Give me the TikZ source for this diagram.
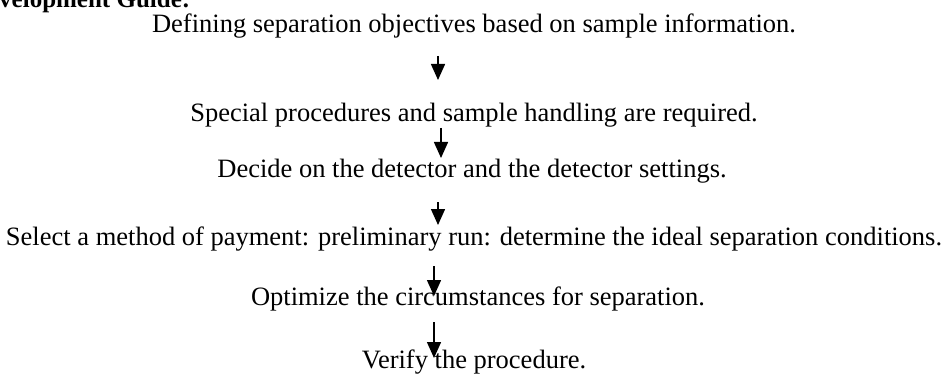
\documentclass[tikz,border=0pt]{standalone}
\usepackage{fontspec}
\setmainfont{Liberation Serif}
\usetikzlibrary{arrows.meta}
\begin{document}
\begin{tikzpicture}[x=1pt,y=-1pt,
  line/.style={font=\fontsize{26.5}{30}\selectfont, inner sep=0pt, anchor=base},
  head/.style={font=\fontsize{25}{28}\selectfont\bfseries, inner sep=0pt, anchor=base west},
  flow/.style={line width=1.5pt, -{Triangle[width=14pt,length=16pt]}}]
\useasboundingbox (0,0) rectangle (944,374);
\clip (0,0) rectangle (944,374);
\node[head] (title) at (-1,8) {velopment Guide:};
\node[line] (l1) at (474,33) {Defining separation objectives based on sample information.};
\node[line] (l2) at (474,122) {Special procedures and sample handling are required.};
\node[line] (l3) at (472,178) {Decide on the detector and the detector settings.};
\node[line] (l4) at (474,245) {Select a method of payment: preliminary run: determine the ideal separation conditions.};
\node[line] (l5) at (478,305) {Optimize the circumstances for separation.};
\node[line] (l6) at (474,368) {Verify the procedure.};
\coordinate (a1s) at (438,56);  \coordinate (a1e) at (438,80);
\coordinate (a2s) at (441,128); \coordinate (a2e) at (441,158);
\coordinate (a3s) at (438,202); \coordinate (a3e) at (438,225);
\coordinate (a4s) at (434,266); \coordinate (a4e) at (434,296);
\coordinate (a5s) at (434,322); \coordinate (a5e) at (434,358);
\draw[flow] (a1s) -- (a1e);
\draw[flow] (a2s) -- (a2e);
\draw[flow] (a3s) -- (a3e);
\draw[flow] (a4s) -- (a4e);
\draw[flow] (a5s) -- (a5e);
\end{tikzpicture}
\end{document}
